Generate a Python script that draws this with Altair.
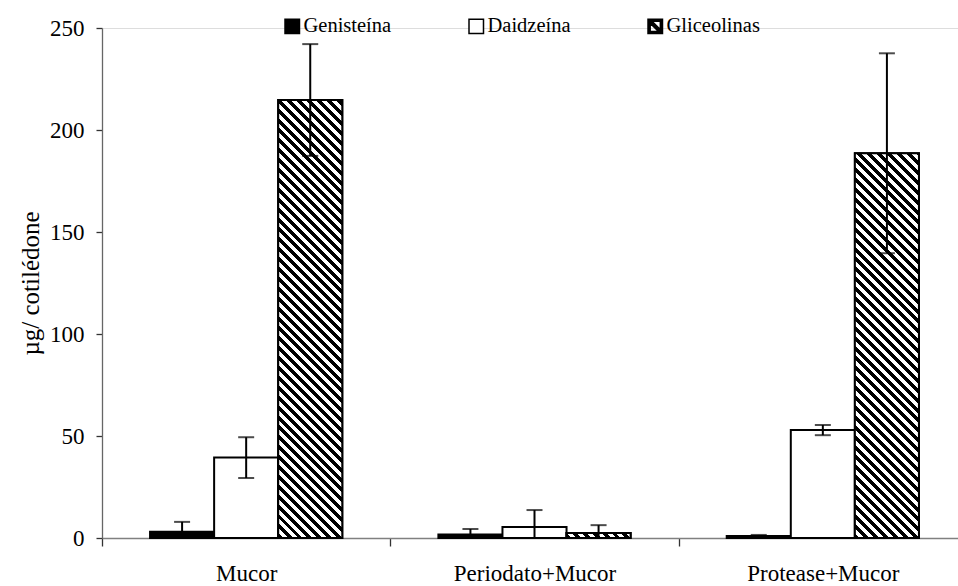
import altair as alt
import pandas as pd
import numpy as np

# ---- data ----
categories = ["Mucor", "Periodato+Mucor", "Protease+Mucor"]
series = ["Genisteína", "Daidzeína", "Gliceolinas"]
genisteina = [3.1, 1.7, 1.0]
genisteina_err = [4.8, 2.7, 0.5]
daidzeina = [39.4, 5.4, 52.9]
daidzeina_err = [10.0, 8.3, 2.5]
gliceolinas = [214.7, 2.5, 188.6]
gliceolinas_err = [27.4, 3.8, 49.0]
y_ticks = [0, 50, 100, 150, 200, 250]

rows = []
for name, vals, errs in [("Genisteína", genisteina, genisteina_err),
                         ("Daidzeína", daidzeina, daidzeina_err),
                         ("Gliceolinas", gliceolinas, gliceolinas_err)]:
    for c, v, e in zip(categories, vals, errs):
        rows.append({"cat": c, "serie": name, "valor": v, "erro": e})
df = pd.DataFrame(rows)

# ---- layout ----
Y_MAX = 250
PLOT_W = 856
PLOT_H = 510
X_RANGE = 865          # the third category runs past the window edge
PAD_OUTER = 0.75
px_per_unit = PLOT_H / Y_MAX
bar_w = (X_RANGE / 3) / (3 + 2 * PAD_OUTER)


def hatch(height_px, width_px, period=7.0):
    """Linear gradient with hard stops giving 45deg '\\' hatching for a bar."""
    W, H = width_px, max(height_px, 1.0)
    lam = (W + H) / (W ** 2 + H ** 2)
    total = (W + H) / np.sqrt(2)
    step = period / total
    stops = []
    t = 0.0
    while t < 1.0:
        b = min(t + step / 2, 1.0)
        c = min(t + step, 1.0)
        stops += [{"offset": round(t, 5), "color": "black"},
                  {"offset": round(b, 5), "color": "black"},
                  {"offset": round(b, 5), "color": "white"},
                  {"offset": round(c, 5), "color": "white"}]
        t += step
    return {"gradient": "linear", "x1": 0, "y1": 1,
            "x2": float(lam * W), "y2": float(1 - lam * H), "stops": stops}


FONT = "Liberation Serif"

x_enc = alt.X("cat:N",
              scale=alt.Scale(domain=categories, range=[0, X_RANGE],
                              paddingInner=0, paddingOuter=0),
              axis=alt.Axis(title=None, labelAngle=0, tickBand="extent",
                            tickSize=8, labelPadding=16, labelFontSize=23,
                            labelFont=FONT, labelColor="black",
                            domainColor="#808080", domainWidth=1.3,
                            tickColor="#333333", tickWidth=1.3))
xo_enc = alt.XOffset("serie:N",
                     scale=alt.Scale(domain=series, paddingInner=0,
                                     paddingOuter=PAD_OUTER))
y_enc = alt.Y("valor:Q",
              scale=alt.Scale(domain=[0, Y_MAX], nice=False),
              axis=alt.Axis(values=y_ticks, title="µg/ cotilédone", grid=False,
                            tickSize=6, labelPadding=12, labelFontSize=23,
                            labelFont=FONT, labelColor="black",
                            domainColor="#666666", domainWidth=1.3,
                            tickColor="#333333", tickWidth=1.3,
                            titleFont=FONT, titleFontSize=25,
                            titleFontWeight="normal", titleColor="black",
                            titlePadding=6))

base = alt.Chart(df)

hatch_symbol = ("M-1,-1H1V1H-1Z "
                "M-0.45,-0.7L0.7,0.45L0.7,-0.7Z "
                "M-0.7,-0.45L-0.7,0.7L0.45,0.7Z")

legend_def = alt.Legend(title=None, orient="none", legendX=180, legendY=-12,
                        direction="horizontal", columns=3, columnPadding=74,
                        labelFont=FONT, labelFontSize=20.5, labelColor="black",
                        symbolSize=210, symbolStrokeWidth=1.5, symbolOpacity=1,
                        labelOffset=1, padding=0)

# invisible points that only carry the legend (fill + stroke + shape merged)
legend_layer = base.mark_point(
    filled=True, opacity=0, size=1, strokeWidth=1.5).encode(
    x=x_enc, xOffset=xo_enc, y=y_enc,
    fill=alt.Fill("serie:N",
                  scale=alt.Scale(domain=series,
                                  range=["black", "white", "black"]),
                  legend=legend_def),
    stroke=alt.Stroke("serie:N",
                      scale=alt.Scale(domain=series,
                                      range=["black", "black", "black"]),
                      legend=legend_def),
    shape=alt.Shape("serie:N",
                    scale=alt.Scale(domain=series,
                                    range=["square", "square", hatch_symbol]),
                    legend=legend_def),
)

bars = base.mark_bar(stroke="black", strokeWidth=2).encode(
    x=x_enc, xOffset=xo_enc, y=y_enc,
    color=alt.Color("serie:N",
                    scale=alt.Scale(domain=series,
                                    range=["black", "white", "white"]),
                    legend=None),
)

hatched_layers = []
for c, v in zip(categories, gliceolinas):
    hatched_layers.append(
        base.transform_filter(
            f"datum.serie == 'Gliceolinas' && datum.cat == '{c}'"
        ).mark_bar(fill=hatch(v * px_per_unit, bar_w),
                   stroke="black", strokeWidth=2).encode(
            x=x_enc, xOffset=xo_enc, y=y_enc)
    )

err = base.transform_calculate(
    lo="max(0, datum.valor - datum.erro)",
    hi="datum.valor + datum.erro",
    lo_raw="datum.valor - datum.erro",
)

err_rule = err.mark_rule(color="black", strokeWidth=2).encode(
    x=x_enc, xOffset=xo_enc, y=alt.Y("lo:Q"), y2="hi:Q")
cap_hi = err.mark_tick(color="black", thickness=2, size=16).encode(
    x=x_enc, xOffset=xo_enc, y=alt.Y("hi:Q"))
cap_lo = err.transform_filter("datum.lo_raw > 0").mark_tick(
    color="black", thickness=2, size=16).encode(
    x=x_enc, xOffset=xo_enc, y=alt.Y("lo:Q"))

chart = alt.layer(legend_layer, bars, *hatched_layers, err_rule, cap_hi,
                  cap_lo).properties(
    width=PLOT_W, height=PLOT_H,
    padding={"left": 102, "top": 28, "right": 0, "bottom": 48},
    autosize=alt.AutoSizeParams(type="none"),
).configure_view(stroke=None).configure(
    font=FONT, background="white"
).configure_legend(
    labelFont=FONT, labelFontSize=20.5, labelColor="black",
    symbolStrokeWidth=1.5, symbolOpacity=1,
)

chart.save("out.html", embed_options={"renderer": "svg", "actions": False})
